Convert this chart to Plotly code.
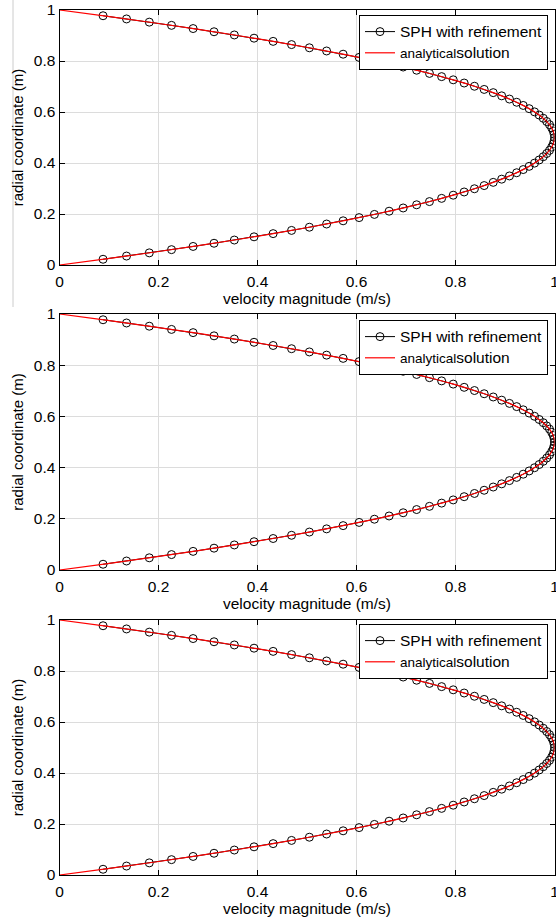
import plotly.graph_objects as go

# SPH with refinement: radial coordinate (m) and velocity magnitude (m/s)
sph_r = [0.0225, 0.0351, 0.0476, 0.0602, 0.0728, 0.0853, 0.0979, 0.1105, 0.1230, 0.1356,
         0.1482, 0.1607, 0.1733, 0.1859, 0.1984, 0.2110, 0.2236, 0.2361, 0.2487, 0.2613,
         0.2738, 0.2864, 0.2990, 0.3115, 0.3241, 0.3366, 0.3492, 0.3618, 0.3743, 0.3869,
         0.3995, 0.4120, 0.4246, 0.4372, 0.4497, 0.4623, 0.4749, 0.4874, 0.5000,
         0.5126, 0.5251, 0.5377, 0.5503, 0.5628, 0.5754, 0.5880, 0.6005, 0.6131, 0.6257,
         0.6382, 0.6508, 0.6634, 0.6759, 0.6885, 0.7010, 0.7136, 0.7262, 0.7387, 0.7513,
         0.7639, 0.7764, 0.7890, 0.8016, 0.8141, 0.8267, 0.8393, 0.8518, 0.8644, 0.8770,
         0.8895, 0.9021, 0.9147, 0.9272, 0.9398, 0.9524, 0.9649, 0.9775]
sph_v = [0.0880, 0.1354, 0.1814, 0.2263, 0.2699, 0.3122, 0.3532, 0.3930, 0.4316, 0.4688,
         0.5048, 0.5396, 0.5730, 0.6053, 0.6362, 0.6659, 0.6943, 0.7215, 0.7474, 0.7720,
         0.7954, 0.8175, 0.8383, 0.8579, 0.8762, 0.8933, 0.9090, 0.9236, 0.9368, 0.9488,
         0.9596, 0.9691, 0.9773, 0.9842, 0.9899, 0.9943, 0.9975, 0.9994, 1.0000,
         0.9994, 0.9975, 0.9943, 0.9899, 0.9842, 0.9773, 0.9691, 0.9596, 0.9488, 0.9368,
         0.9236, 0.9090, 0.8933, 0.8762, 0.8579, 0.8383, 0.8175, 0.7954, 0.7720, 0.7474,
         0.7215, 0.6943, 0.6659, 0.6362, 0.6053, 0.5730, 0.5396, 0.5048, 0.4688, 0.4316,
         0.3930, 0.3532, 0.3122, 0.2699, 0.2263, 0.1814, 0.1354, 0.0880]

# analytical solution
ana_r = [0.0, 0.025, 0.05, 0.075, 0.1, 0.125, 0.15, 0.175, 0.2, 0.225, 0.25, 0.275, 0.3,
         0.325, 0.35, 0.375, 0.4, 0.425, 0.45, 0.475, 0.5, 0.525, 0.55, 0.575, 0.6, 0.625,
         0.65, 0.675, 0.7, 0.725, 0.75, 0.775, 0.8, 0.825, 0.85, 0.875, 0.9, 0.925, 0.95,
         0.975, 1.0]
ana_v = [0.0, 0.0975, 0.19, 0.2775, 0.36, 0.4375, 0.51, 0.5775, 0.64, 0.6975, 0.75, 0.7975,
         0.84, 0.8775, 0.91, 0.9375, 0.96, 0.9775, 0.99, 0.9975, 1.0, 0.9975, 0.99, 0.9775,
         0.96, 0.9375, 0.91, 0.8775, 0.84, 0.7975, 0.75, 0.6975, 0.64, 0.5775, 0.51, 0.4375,
         0.36, 0.2775, 0.19, 0.0975, 0.0]

tick_vals = [0, 0.2, 0.4, 0.6, 0.8, 1]
tick_text = ["0", "0.2", "0.4", "0.6", "0.8", "1"]

W, H = 556, 924
FONT = "Liberation Sans, Arial, Helvetica, sans-serif"

# panel pixel boxes (top, bottom)
panels = [(10, 265), (314, 570), (620, 875)]
legend_tops = [15, 320, 624]
x_left, x_right = 59.5, 554.5

fig = go.Figure()
layout = dict(
    width=W, height=H,
    margin=dict(l=0, r=0, t=0, b=0, autoexpand=False),
    paper_bgcolor="white", plot_bgcolor="white",
    font=dict(family=FONT, size=14, color="black"),
    showlegend=True,
)

for i, (top, bot) in enumerate(panels):
    n = "" if i == 0 else str(i + 1)
    leg = "legend" if i == 0 else "legend" + str(i + 1)
    fig.add_trace(go.Scatter(
        x=sph_v, y=sph_r, mode="lines+markers",
        name="<span style='font-size:15.5px'>SPH with refinement</span>",
        line=dict(color="black", width=1),
        marker=dict(symbol="circle-open", size=8, color="black", line=dict(width=1)),
        xaxis="x" + n, yaxis="y" + n, legend=leg,
    ))
    fig.add_trace(go.Scatter(
        x=ana_v, y=ana_r, mode="lines",
        name="<span style='font-size:13.5px'>analytical</span>"
             "<span style='font-size:15.5px'>solution</span>",
        line=dict(color="red", width=1.2, shape="spline"),
        xaxis="x" + n, yaxis="y" + n, legend=leg,
    ))
    dom_y = [1 - bot / H, 1 - top / H]
    layout["xaxis" + n] = dict(
        domain=[x_left / W, x_right / W], range=[0, 1], anchor="y" + n,
        automargin=False, ticklabeloverflow="allow",
        tickvals=tick_vals, ticktext=tick_text, ticks="inside", ticklen=5,
        tickcolor="black", showline=True, mirror="ticks", linecolor="black", linewidth=1,
        showgrid=True, gridcolor="#dcdcdc", gridwidth=1, zeroline=False,
        tickfont=dict(size=15.5), ticklabelstandoff=2,
        title=dict(text="velocity magnitude (m/s)", font=dict(size=15.5), standoff=2),
    )
    layout["yaxis" + n] = dict(
        domain=dom_y, range=[0, 1], anchor="x" + n,
        automargin=False, ticklabeloverflow="allow",
        tickvals=tick_vals, ticktext=tick_text, ticks="inside", ticklen=5,
        tickcolor="black", showline=True, mirror="ticks", linecolor="black", linewidth=1,
        showgrid=True, gridcolor="#dcdcdc", gridwidth=1, zeroline=False,
        tickfont=dict(size=15.5),
        title=dict(text="radial coordinate (m)", font=dict(size=15), standoff=6),
    )
    layout[leg] = dict(
        x=359 / W, xanchor="left", y=1 - legend_tops[i] / H, yanchor="top",
        bgcolor="white", bordercolor="black", borderwidth=1,
        font=dict(size=14, family=FONT), itemwidth=30, tracegroupgap=0,
        traceorder="normal",
    )

layout["shapes"] = [dict(type="line", xref="paper", yref="paper",
                         x0=13 / W, x1=13 / W, y0=1, y1=1 - 307 / H,
                         line=dict(color="#cccccc", width=1))]

fig.update_layout(**layout)
fig.write_html("out.html", config={"displayModeBar": False},
               post_script="document.body.style.margin='0';document.body.style.overflow='hidden';")
